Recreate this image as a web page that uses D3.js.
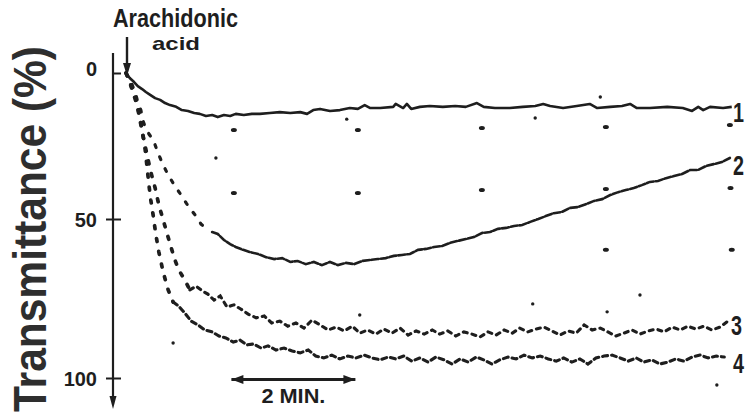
<!DOCTYPE html>
<html>
<head>
<meta charset="utf-8">
<script src="https://cdn.jsdelivr.net/npm/d3@7"></script>
<style>
  html, body { margin: 0; padding: 0; background: #fff; }
  svg { display: block; }
</style>
</head>
<body>
<script>
// time in minutes after arachidonic acid, transmittance in %
const curve1 = [[0,0],[.06,1.7],[.13,3.1],[.19,4.5],[.26,5.5],[.32,6.5],[.39,7.5],[.47,8.6],[.55,9.2],[.63,10.3],
  [.71,11.0],[.81,11.6],[.9,12.7],[1.0,13.0],[1.1,13.7],[1.19,14.0],[1.29,14.7],[1.39,14.4],[1.48,15.1],[1.58,14.4],
  [1.68,14.7],[1.77,14.0],[1.9,14.4],[2.03,14.0],[2.16,14.0],[2.32,13.7],[2.48,13.4],[2.65,13.7],[2.81,13.4],[2.92,14.0],
  [3.02,12.7],[3.13,12.3],[3.29,13.0],[3.45,12.7],[3.61,12.0],[3.74,12.3],[3.85,11.0],[3.94,12.0],[4.1,12.0],[4.31,11.6],
  [4.35,10.6],[4.47,12.0],[4.53,10.6],[4.6,12.3],[4.74,11.6],[4.9,11.3],[5.11,11.6],[5.31,11.3],[5.48,11.6],[5.66,10.3],
  [5.77,11.6],[5.95,12.0],[6.19,12.0],[6.4,11.6],[6.6,11.3],[6.73,10.6],[6.84,11.3],[7.05,12.0],[7.27,11.3],[7.48,10.6],
  [7.6,12.0],[7.81,11.6],[8.0,11.3],[8.13,10.6],[8.24,12.0],[8.45,12.0],[8.73,11.6],[8.98,12.0],[9.13,13.0],[9.23,11.6],
  [9.31,12.7],[9.42,11.6],[9.63,12.0],[9.77,11.6]];

const curve2 = [[0,0],[.05,1.7],[.1,4.1],[.15,6.8],[.19,9.9],[.24,12.7],[.27,16.1],[.31,18.5],[.37,20.9],[.44,22.9],
  [.5,26.4],[.55,29.1],[.6,31.5],[.68,34.9],[.74,37.0],[.81,39.4],[.89,41.8],[.97,44.5],[1.05,46.9],[1.13,49.0],
  [1.21,51.6],[1.29,52.8],[1.39,54.1],[1.48,54.7],[1.58,56.6],[1.68,57.9],[1.77,58.8],[1.89,59.7],[2.0,60.4],[2.13,61.0],
  [2.26,62.0],[2.39,62.6],[2.52,62.3],[2.65,63.5],[2.77,63.2],[2.9,64.2],[3.03,63.5],[3.16,64.5],[3.29,63.5],[3.42,64.5],
  [3.55,63.8],[3.68,64.2],[3.81,63.2],[3.94,62.9],[4.06,62.6],[4.19,62.3],[4.32,61.6],[4.45,61.3],[4.58,61.0],[4.71,59.7],
  [4.84,59.4],[4.97,58.8],[5.1,58.5],[5.23,57.5],[5.35,56.9],[5.48,56.3],[5.61,55.7],[5.74,54.4],[5.87,54.1],[6.0,53.1],
  [6.13,52.8],[6.26,52.2],[6.39,51.9],[6.52,50.9],[6.65,50.0],[6.77,49.0],[6.9,48.0],[7.03,47.6],[7.16,46.2],[7.29,45.9],
  [7.42,44.9],[7.55,43.8],[7.68,43.2],[7.81,41.8],[7.94,40.8],[8.06,40.1],[8.19,39.4],[8.32,38.4],[8.45,37.3],[8.58,37.0],
  [8.71,36.0],[8.84,35.3],[8.97,34.6],[9.1,33.2],[9.23,33.2],[9.35,31.9],[9.48,31.2],[9.61,30.5],[9.74,29.1]];

const curve3 = [[0,0],[.06,3.1],[.15,8.2],[.21,14.4],[.27,21.2],[.34,28.1],[.4,33.9],[.47,39.4],[.53,45.2],[.6,50.3],
  [.66,54.4],[.73,59.1],[.79,62.9],[.85,66.0],[.94,68.9],[1.03,72.3],[1.13,71.1],[1.23,72.6],[1.32,73.6],[1.42,75.5],
  [1.52,74.2],[1.63,77.7],[1.74,77.0],[1.85,78.3],[1.97,79.9],[2.1,81.1],[2.23,80.5],[2.35,82.7],[2.48,82.1],[2.61,83.7],
  [2.74,82.7],[2.87,84.3],[3.0,81.8],[3.13,83.3],[3.26,84.9],[3.39,84.0],[3.52,85.2],[3.65,83.7],[3.77,85.9],[3.9,84.9],
  [4.03,86.2],[4.16,84.6],[4.29,85.9],[4.42,84.3],[4.55,86.5],[4.68,85.2],[4.81,86.2],[4.94,84.9],[5.06,86.2],[5.19,85.2],
  [5.32,86.8],[5.45,85.5],[5.58,86.2],[5.71,87.1],[5.84,85.5],[5.97,86.5],[6.1,84.9],[6.23,85.9],[6.35,84.3],[6.48,85.5],
  [6.61,84.6],[6.74,84.0],[6.87,85.2],[7.0,86.5],[7.13,85.2],[7.26,85.9],[7.39,83.3],[7.52,84.9],[7.65,84.3],[7.77,85.5],
  [7.9,86.8],[8.03,85.9],[8.16,84.9],[8.29,86.2],[8.42,85.2],[8.55,84.6],[8.68,85.5],[8.81,84.0],[8.94,84.9],[9.06,83.7],
  [9.19,84.6],[9.32,83.7],[9.45,84.9],[9.58,84.0],[9.69,82.4]];

const curve4 = [[0,0],[.05,2.4],[.11,6.5],[.18,11.0],[.23,15.4],[.27,20.6],[.31,26.4],[.34,32.2],[.37,38.4],[.4,43.5],
  [.44,49.0],[.48,54.7],[.53,60.4],[.6,66.7],[.68,72.3],[.76,76.1],[.85,77.4],[.95,79.6],[1.05,82.1],[1.16,83.3],
  [1.27,84.9],[1.39,85.5],[1.5,86.8],[1.61,87.4],[1.73,88.7],[1.84,88.1],[1.95,89.6],[2.06,89.3],[2.18,90.6],[2.29,89.9],
  [2.42,91.2],[2.55,90.6],[2.68,91.5],[2.81,92.1],[2.94,91.2],[3.06,93.1],[3.19,93.7],[3.32,92.8],[3.45,94.0],[3.58,93.1],
  [3.71,93.7],[3.84,92.8],[3.97,93.7],[4.1,94.3],[4.23,93.4],[4.35,94.0],[4.48,93.1],[4.61,94.7],[4.74,93.7],[4.87,95.0],
  [5.0,93.4],[5.13,94.3],[5.26,95.6],[5.39,94.0],[5.52,95.0],[5.65,93.4],[5.77,94.3],[5.9,95.6],[6.03,94.3],[6.16,93.4],
  [6.29,94.0],[6.42,92.8],[6.55,93.7],[6.68,93.1],[6.81,94.0],[6.94,94.7],[7.06,93.7],[7.19,95.0],[7.32,94.0],[7.45,95.6],
  [7.58,93.7],[7.71,93.1],[7.84,92.8],[7.97,93.7],[8.1,94.7],[8.23,93.7],[8.35,95.0],[8.48,94.3],[8.61,95.6],[8.74,95.0],
  [8.87,94.0],[9.0,94.7],[9.13,93.4],[9.26,92.8],[9.39,93.7],[9.52,93.1],[9.65,93.4]];

// recorder chart-paper dots and specks
const gridDots = [[1.74,19.5],[3.74,19.5],[5.74,18.8],[7.74,18.5],[9.74,17.8],
  [1.74,41.1],[3.74,41.1],[5.74,40.1],[7.74,39.7],[9.75,39.4],[7.74,59.7],[9.77,59.7]];
const specks = [[1.45,29.1],[3.56,15.8],[6.6,15.4],[7.65,8.2],[.76,89],[6.56,76.7],[3.77,80.2],[8.29,73.9],[7.76,79.2],[9.53,102.2]];

const yTicks = [0, 50, 100];
const curveLabels = ["1", "2", "3", "4"];
const curveLabelValues = [13, 31, 83, 95];

const w = 748, h = 419;
const ink = "#1e1e1e";
const font = "'Liberation Sans', Arial, sans-serif";

const x = d3.scaleLinear().domain([0, 10]).range([126, 746]);
const y = d3.scaleLinear().domain([0, 50, 100]).range([73, 219, 378]);

const svg = d3.select("body").append("svg")
  .attr("width", w)
  .attr("height", h);

const line = d3.line().x(d => x(d[0])).y(d => y(d[1]));

// curve 1 - continuous
svg.append("path")
  .attr("d", line(curve1))
  .attr("fill", "none")
  .attr("stroke", ink)
  .attr("stroke-width", 2.6)
  .attr("stroke-linejoin", "round");

// dotted traces: sparse dots on the fast drop, dense dashes afterwards
function dotted(data, split, sparse, dense, width) {
  svg.append("path")
    .attr("d", line(data.filter(d => d[0] <= split)))
    .attr("fill", "none")
    .attr("stroke", ink)
    .attr("stroke-width", width + 0.6)
    .attr("stroke-linecap", "round")
    .attr("stroke-dasharray", sparse);
  svg.append("path")
    .attr("d", line(data.filter(d => d[0] >= split)))
    .attr("fill", "none")
    .attr("stroke", ink)
    .attr("stroke-width", width)
    .attr("stroke-linecap", "round")
    .attr("stroke-dasharray", dense);
}
dotted(curve2, 1.3, "3,10", "7,2", 2.6);
dotted(curve3, 1.03, "3,10", "4,5", 3.1);
dotted(curve4, 0.76, "3,10", "5,4", 3.1);

svg.selectAll(".grid-dot")
  .data(gridDots)
  .enter()
  .append("ellipse")
  .attr("class", "grid-dot")
  .attr("cx", d => x(d[0]))
  .attr("cy", d => y(d[1]))
  .attr("rx", 3)
  .attr("ry", 2)
  .attr("fill", ink);

svg.selectAll(".speck")
  .data(specks)
  .enter()
  .append("circle")
  .attr("class", "speck")
  .attr("cx", d => x(d[0]))
  .attr("cy", d => y(d[1]))
  .attr("r", 1.7)
  .attr("fill", ink);

// y axis
const yAxis = d3.axisLeft(y).tickValues(yTicks).tickSize(7).tickPadding(9);
const gy = svg.append("g")
  .attr("transform", "translate(113,0)")
  .call(yAxis);
gy.select(".domain").remove();
gy.selectAll(".tick line")
  .attr("x1", d => d === 0 ? 0 : -7)
  .attr("x2", 8)
  .attr("stroke", ink)
  .attr("stroke-width", 2);
gy.selectAll(".tick text")
  .attr("fill", ink)
  .style("font-family", font)
  .style("font-weight", "bold")
  .style("font-size", "20px")
  .attr("dy", d => d === 0 ? "0.1em" : "0.35em");

svg.append("line")
  .attr("x1", 113).attr("x2", 113)
  .attr("y1", 53).attr("y2", 398)
  .attr("stroke", ink)
  .attr("stroke-width", 2.2);
svg.append("path")
  .attr("d", "M109.5,396 L116.5,396 L113,409 Z")
  .attr("fill", ink);

// arachidonic acid marker
svg.append("line")
  .attr("x1", 127).attr("x2", 127)
  .attr("y1", 37).attr("y2", 66)
  .attr("stroke", ink)
  .attr("stroke-width", 2.4);
svg.append("path")
  .attr("d", "M123,63 L131,63 L127,76 Z")
  .attr("fill", ink);

svg.append("text")
  .attr("x", 113).attr("y", 27)
  .attr("textLength", 125)
  .attr("lengthAdjust", "spacingAndGlyphs")
  .style("font-family", font)
  .style("font-weight", "bold")
  .style("font-size", "25px")
  .attr("fill", ink)
  .text("Arachidonic");
svg.append("text")
  .attr("x", 152).attr("y", 50)
  .attr("textLength", 48)
  .attr("lengthAdjust", "spacingAndGlyphs")
  .style("font-family", font)
  .style("font-weight", "bold")
  .style("font-size", "19px")
  .attr("fill", ink)
  .text("acid");

// y title
svg.append("text")
  .attr("transform", "translate(46,412) rotate(-90)")
  .attr("textLength", 366)
  .attr("lengthAdjust", "spacingAndGlyphs")
  .style("font-family", font)
  .style("font-weight", "bold")
  .style("font-size", "46px")
  .attr("fill", "#2e2e2e")
  .text("Transmittance (%)");

// 2 min scale bar
const barY = 100.5;
svg.append("line")
  .attr("x1", x(1.7)).attr("x2", x(3.7))
  .attr("y1", y(barY)).attr("y2", y(barY))
  .attr("stroke", ink)
  .attr("stroke-width", 3);
svg.append("path")
  .attr("d", `M${x(1.7)},${y(barY)} l12,-4.5 l0,9 Z M${x(3.7)},${y(barY)} l-12,-4.5 l0,9 Z`)
  .attr("fill", ink);
svg.append("text")
  .attr("x", x(2.7)).attr("y", 403)
  .attr("text-anchor", "middle")
  .attr("textLength", 64)
  .attr("lengthAdjust", "spacingAndGlyphs")
  .style("font-family", font)
  .style("font-weight", "bold")
  .style("font-size", "20px")
  .attr("fill", ink)
  .text("2 MIN.");

// curve numbers at right edge
svg.selectAll(".curve-label")
  .data(curveLabels)
  .enter()
  .append("text")
  .attr("class", "curve-label")
  .attr("x", (d, i) => i === 2 ? 731 : 733)
  .attr("y", (d, i) => y(curveLabelValues[i]) + 11)
  .attr("textLength", 11)
  .attr("lengthAdjust", "spacingAndGlyphs")
  .style("font-family", font)
  .style("font-weight", "bold")
  .style("font-size", "28px")
  .attr("fill", ink)
  .text(d => d);
</script>
</body>
</html>
